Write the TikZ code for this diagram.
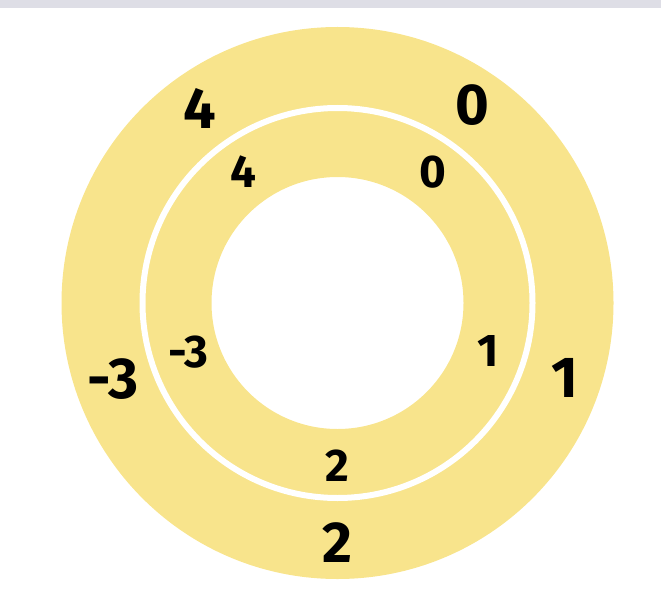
\documentclass[tikz,border=0pt]{standalone}
\usepackage{fontspec}
\setmainfont{Fira Sans}
\definecolor{ringyellow}{RGB}{248,228,140}
\definecolor{topgray}{RGB}{222,222,230}

\begin{document}
\begin{tikzpicture}[
    x=1bp, y=-1bp,
    big/.style={font=\fontsize{58}{58}\selectfont\bfseries, inner sep=0pt},
    small/.style={font=\fontsize{46}{46}\selectfont\bfseries, inner sep=0pt}
]

\useasboundingbox (0,0) rectangle (661,601);
\fill[topgray] (0,0) rectangle (661,8);

% rings
\fill[ringyellow, even odd rule] (337.5,303) circle[radius=276] (337.5,303) circle[radius=126];
\draw[white, line width=6bp] (337.5,303) circle[radius=195];

\node[big] (o4) at (200,108) {4};
\node[big] (o0) at (472,105) {0};
\node[big] (o1) at (565,378) {1};
\node[big] (o2) at (337,543) {2};
\node[big] (om3) at (113,379) {-3};

\node[small] (i4) at (243,172) {4};
\node[small] (i0) at (433,172) {0};
\node[small] (i1) at (488,351) {1};
\node[small] (i2) at (337,466) {2};
\node[small] (im3) at (188,352) {-3};

\end{tikzpicture}
\end{document}
